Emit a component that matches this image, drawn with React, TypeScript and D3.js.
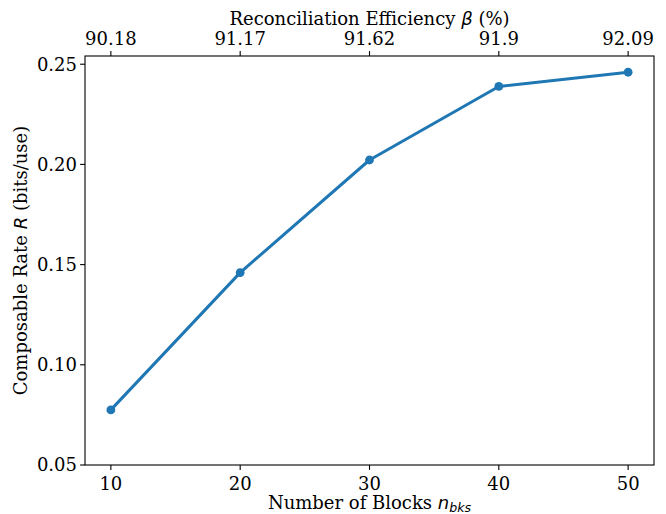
import * as d3 from 'd3';

const blocks = [10, 20, 30, 40, 50];
const rates = [0.0775, 0.146, 0.2022, 0.2389, 0.246];
const betaLabels = ['90.18', '91.17', '91.62', '91.9', '92.09'];
const yTicks = [0.05, 0.1, 0.15, 0.2, 0.25];

const WIDTH = 666;
const HEIGHT = 514;
const MARGIN = { top: 56, right: 12, bottom: 49, left: 85 };
const COLOR = '#1f77b4';
const FONT = "'DejaVu Serif', serif";
const MATH = "'DejaVu Sans', sans-serif";
const FS = 18;

export default function App() {
  const innerW = WIDTH - MARGIN.left - MARGIN.right;
  const innerH = HEIGHT - MARGIN.top - MARGIN.bottom;

  const xScale = d3.scaleLinear().domain([8, 52]).range([0, innerW]);
  const yScale = d3.scaleLinear().domain([0.05, 0.2541]).range([innerH, 0]);

  const line = d3
    .line<number>()
    .x((_, i) => xScale(blocks[i]))
    .y((d) => yScale(d));

  return (
    <svg
      width={WIDTH}
      height={HEIGHT}
      style={{ position: 'absolute', left: 0, top: 0, fontFamily: FONT }}
    >
      <rect width={WIDTH} height={HEIGHT} fill="white" />
      <g transform={`translate(${MARGIN.left},${MARGIN.top})`}>
        <path d={line(rates)!} fill="none" stroke={COLOR} strokeWidth={3} strokeLinejoin="round" />
        {rates.map((r, i) => (
          <circle key={i} cx={xScale(blocks[i])} cy={yScale(r)} r={4.4} fill={COLOR} />
        ))}

        <rect x={0} y={0} width={innerW} height={innerH} fill="none" stroke="black" strokeWidth={1.1} />

        {/* bottom axis */}
        {blocks.map((b) => (
          <g key={'b' + b} transform={`translate(${xScale(b)},${innerH})`}>
            <line y2={4.9} stroke="black" strokeWidth={1.1} />
            <text y={24.5} textAnchor="middle" fontSize={FS}>
              {b}
            </text>
          </g>
        ))}

        {/* top axis */}
        {blocks.map((b, i) => (
          <g key={'t' + b} transform={`translate(${xScale(b)},0)`}>
            <line y2={-4.9} stroke="black" strokeWidth={1.1} />
            <text y={-11.5} textAnchor="middle" fontSize={FS}>
              {betaLabels[i]}
            </text>
          </g>
        ))}

        {/* left axis */}
        {yTicks.map((t) => (
          <g key={'y' + t} transform={`translate(0,${yScale(t)})`}>
            <line x2={-4.9} stroke="black" strokeWidth={1.1} />
            <text x={-8} dy="0.35em" textAnchor="end" fontSize={FS}>
              {t.toFixed(2)}
            </text>
          </g>
        ))}

        <text x={innerW / 2} y={innerH + 44} textAnchor="middle" fontSize={FS}>
          Number of Blocks <tspan fontFamily={MATH} fontStyle="italic">n</tspan>
          <tspan fontFamily={MATH} fontStyle="italic" fontSize={12.6} dy={2.5}>bks</tspan>
        </text>

        <text x={innerW / 2} y={-31.5} textAnchor="middle" fontSize={FS}>
          Reconciliation Efficiency <tspan fontFamily={MATH} fontStyle="italic">β</tspan> (%)
        </text>

        <text
          transform={`translate(${-58},${innerH / 2}) rotate(-90)`}
          textAnchor="middle"
          fontSize={FS}
        >
          Composable Rate <tspan fontFamily={MATH} fontStyle="italic">R</tspan> (bits/use)
        </text>
      </g>
    </svg>
  );
}
